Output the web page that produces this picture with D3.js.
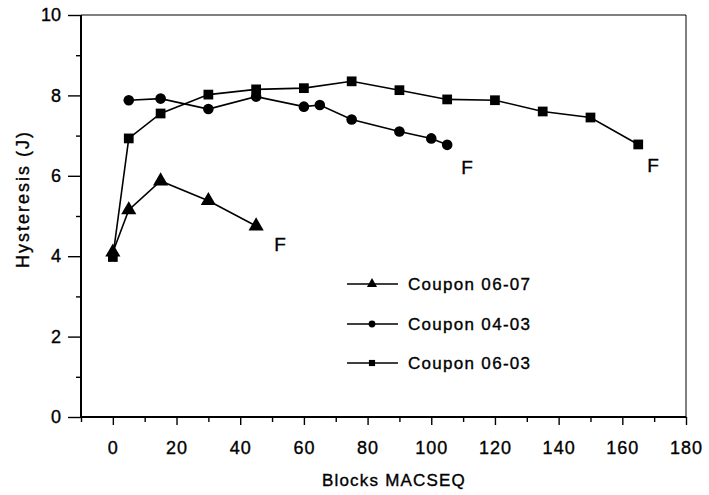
<!DOCTYPE html>
<html>
<head>
<meta charset="utf-8">
<script src="https://cdn.jsdelivr.net/npm/d3@7"></script>
<style>
  html, body { margin: 0; padding: 0; background: #fff; }
  svg text { font-family: "Liberation Sans", Arial, Helvetica, sans-serif; fill: #000; stroke: #000; stroke-width: 0.35px; }
</style>
</head>
<body>
<svg id="chart" width="709" height="495"></svg>
<script>
// ---- data ----
const seriesNames = ["Coupon 06-07", "Coupon 04-03", "Coupon 06-03"];
const blocks0607 = [0, 5, 15, 30, 45];
const hyst0607   = [4.1, 5.15, 5.87, 5.38, 4.75];
const blocks0403 = [5, 15, 30, 45, 60, 65, 75, 90, 100, 105];
const hyst0403   = [7.88, 7.92, 7.66, 7.97, 7.72, 7.76, 7.4, 7.1, 6.93, 6.77];
const blocks0603 = [0, 5, 15, 30, 45, 60, 75, 90, 105, 120, 135, 150, 165];
const hyst0603   = [3.98, 6.93, 7.55, 8.02, 8.15, 8.18, 8.35, 8.13, 7.9, 7.88, 7.6, 7.45, 6.78];
const failX = [45, 105, 165];          // failure points labelled "F"
const xTicksMajor = [0, 20, 40, 60, 80, 100, 120, 140, 160, 180];
const xTicksMinor = [-10, 10, 30, 50, 70, 90, 110, 130, 150, 170];
const yTicksMajor = [0, 2, 4, 6, 8, 10];
const yTicksMinor = [1, 3, 5, 7, 9];
const xTitle = "Blocks MACSEQ";
const yTitle = "Hysteresis  (J)";

// ---- layout ----
const svg = d3.select("#chart");
const x = d3.scaleLinear().domain([-10, 180]).range([81, 686]);
const y = d3.scaleLinear().domain([0, 10]).range([417, 15]);

const series = [
  { name: seriesNames[0], xs: blocks0607, ys: hyst0607, sym: d3.symbolTriangle, size: 100, lsize: 45 },
  { name: seriesNames[1], xs: blocks0403, ys: hyst0403, sym: d3.symbolCircle, size: 88, lsize: 36 },
  { name: seriesNames[2], xs: blocks0603, ys: hyst0603, sym: d3.symbolSquare, size: 95, lsize: 38 }
];

// frame: top & right thin
svg.append("line").attr("x1", x(-10)).attr("x2", x(180)).attr("y1", y(10)).attr("y2", y(10))
  .attr("stroke", "#000").attr("stroke-width", 1.2);
svg.append("line").attr("x1", x(180)).attr("x2", x(180)).attr("y1", y(10)).attr("y2", y(0))
  .attr("stroke", "#000").attr("stroke-width", 1);

// bottom axis
const gx = svg.append("g").attr("transform", `translate(0,${y(0)})`);
gx.call(d3.axisBottom(x).tickValues(xTicksMajor).tickSize(8).tickPadding(16).tickFormat(d3.format("d")));
gx.append("g").call(d3.axisBottom(x).tickValues(xTicksMinor).tickSize(5).tickFormat(""));
gx.selectAll(".domain").attr("stroke-width", 2).attr("d", `M${x(-10)},0H${x(180)}`);
gx.selectAll("line").attr("stroke-width", 1.4);
gx.selectAll("text").attr("font-size", 18).attr("letter-spacing", 1).attr("fill", "#000")
  .attr("font-family", "Liberation Sans, Arial, sans-serif");

// left axis
const gy = svg.append("g").attr("transform", `translate(${x(-10)},0)`);
gy.call(d3.axisLeft(y).tickValues(yTicksMajor).tickSize(13).tickPadding(7).tickFormat(d3.format("d")));
gy.append("g").call(d3.axisLeft(y).tickValues(yTicksMinor).tickSize(5).tickFormat(""));
gy.selectAll(".domain").attr("stroke-width", 2).attr("d", `M0,${y(0)}V${y(10)}`);
gy.selectAll("line").attr("stroke-width", 1.4);
gy.selectAll("text").attr("font-size", 18).attr("fill", "#000")
  .attr("font-family", "Liberation Sans, Arial, sans-serif");

// axis titles
svg.append("text").attr("x", 394).attr("y", 486).attr("text-anchor", "middle")
  .attr("font-size", 17).attr("letter-spacing", 1.2).text(xTitle);
svg.append("text").attr("transform", `translate(29,199) rotate(-90)`).attr("text-anchor", "middle")
  .attr("font-size", 18).attr("letter-spacing", 2).text(yTitle);

// lines + markers
const line = d3.line().x(d => x(d[0])).y(d => y(d[1]));
series.forEach(s => {
  const pts = s.xs.map((v, i) => [v, s.ys[i]]);
  svg.append("path").datum(pts).attr("d", line).attr("fill", "none")
    .attr("stroke", "#000").attr("stroke-width", 1.6);
  svg.selectAll(null).data(pts).enter().append("path")
    .attr("d", d3.symbol().type(s.sym).size(s.size))
    .attr("transform", d => `translate(${x(d[0])},${y(d[1])})`)
    .attr("fill", "#000");
});

// failure labels
const failY = [hyst0607[hyst0607.length - 1], hyst0403[hyst0403.length - 1], hyst0603[hyst0603.length - 1]];
const failDx = [18, 14, 9], failDy = [25, 29, 28];
failX.forEach((fx, i) => {
  svg.append("text").attr("x", x(fx) + failDx[i]).attr("y", y(failY[i]) + failDy[i])
    .attr("font-size", 19).text("F");
});

// legend
const legY = [284, 324, 363];
series.forEach((s, i) => {
  const g = svg.append("g").attr("transform", `translate(0,${legY[i]})`);
  g.append("line").attr("x1", 347).attr("x2", 398).attr("y1", 0).attr("y2", 0)
    .attr("stroke", "#000").attr("stroke-width", 1.6);
  g.append("path").attr("d", d3.symbol().type(s.sym).size(s.lsize)).attr("transform", "translate(372,0)").attr("fill", "#000");
  g.append("text").attr("x", 408).attr("y", 6).attr("font-size", 17).attr("letter-spacing", 1.3).text(s.name);
});
</script>
</body>
</html>
